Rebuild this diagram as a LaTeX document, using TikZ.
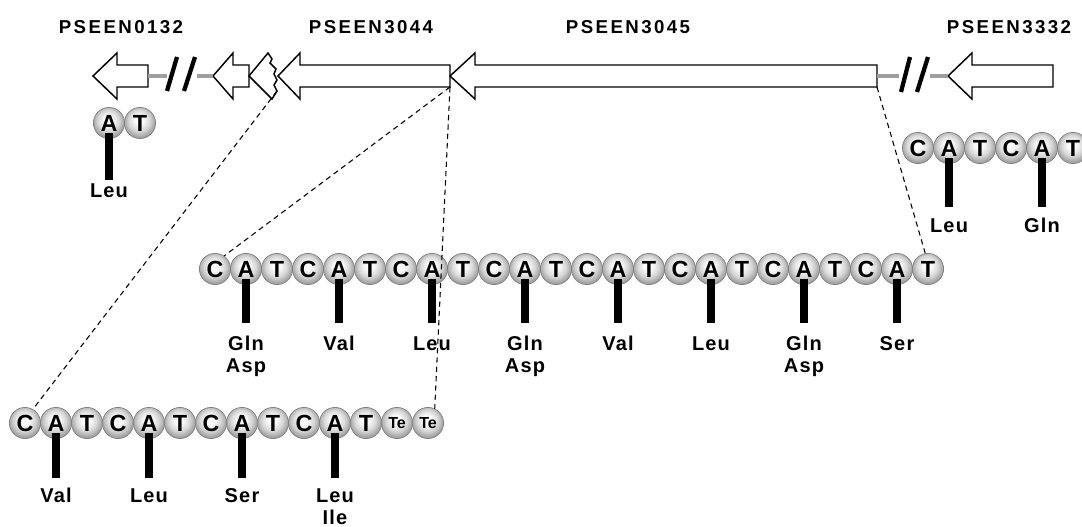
\documentclass[tikz,border=0pt]{standalone}
\usepackage{fontspec}
\setmainfont{Liberation Sans}
\newfontfamily\titlefont{Liberation Sans}[LetterSpace=13]
\newfontfamily\aafont{Liberation Sans}[LetterSpace=6]
\pgfdeclareradialshading{beadshade}{\pgfpoint{-2bp}{6bp}}{color(0bp)=(white); color(8bp)=(white!97!black); color(17bp)=(white!84!black); color(25bp)=(white!64!black); color(50bp)=(white!60!black)}
\tikzset{
  bead/.style={circle, minimum size=23.4pt, inner sep=0pt, shading=beadshade, draw=black!50, line width=0.5pt, font=\fontsize{17.5}{17.5}\selectfont\bfseries},
  tebead/.style={bead, font=\fontsize{12}{12}\selectfont\bfseries},
  aa/.style={font=\aafont\fontsize{15}{16.5}\selectfont\bfseries, align=center, inner sep=0pt, anchor=north},
  stick/.style={line width=6.2pt},
  gene/.style={draw=black, line width=1.1pt, fill=white, line join=miter},
  genetitle/.style={font=\titlefont\fontsize{14}{14}\selectfont\bfseries, inner sep=0pt},
  gapline/.style={draw=gray!75, line width=2.4pt},
  slashline/.style={line width=3.2pt},
  zoomline/.style={line width=0.8pt, dash pattern=on 4pt off 3pt}
}
\newcommand\genearrow[4]{\draw[gene] (#1,76) coordinate (#4-tip) -- (#2,53) -- (#2,65) -- (#3,65) -- (#3,76) coordinate (#4-mid) -- (#3,87) coordinate (#4-end) -- (#2,87) -- (#2,99) -- cycle;}
\begin{document}
\begin{tikzpicture}[x=0.75pt,y=-0.75pt]
\useasboundingbox (0,0) rectangle (1082,527);
\clip (0,0) rectangle (1082,527);
% titles
\node[genetitle] (t0132) at (121,27) {PSEEN0132};
\node[genetitle] (t3044) at (371,27) {PSEEN3044};
\node[genetitle] (t3045) at (628,27) {PSEEN3045};
\node[genetitle] (t3332) at (1009,27) {PSEEN3332};
% genes
\genearrow{93}{117}{148}{g0132}
\coordinate (gapA1) at (167,76);
\coordinate (gapA2) at (197,76);
\draw[gapline] (g0132-mid) -- (gapA1);
\draw[slashline] (167,91) -- (177,57);
\draw[slashline] (184,91) -- (195,57);
\genearrow{213}{233}{249}{gs}
\draw[gapline] (gapA2) -- (gs-tip);
\draw[gene] (249,76) coordinate (gj-tip) -- (268,53) -- (272,59) -- (270,63) -- (276,69) -- (274,74) -- (277,80) -- (274,85) -- (277,91) coordinate (gj-end) -- (272,99) -- cycle;
\genearrow{278}{300}{450}{g3044}
\genearrow{450}{475}{877}{g3045}
\coordinate (gapB1) at (899,76);
\coordinate (gapB2) at (930,76);
\draw[gapline] (g3045-mid) -- (gapB1);
\draw[slashline] (901,92) -- (910,57);
\draw[slashline] (917,92) -- (928,57);
\genearrow{948}{972}{1053}{g3332}
\draw[gapline] (gapB2) -- (g3332-tip);
% top-left pair
\node[bead] (p1) at (109,123) {A};
\node[bead] (p2) at (140,123) {T};
\node[aa] (lp1) at (109,183) {Leu};
\draw[stick] ([yshift=-7.5pt]p1.center) -- ([yshift=2.25pt]lp1.north);
% right row
\foreach \l [count=\i] in {C,A,T,C,A,T}
  \node[bead] (q\i) at ({918+31*(\i-1)},148) {\l};
\node[aa] (lq1) at (949,218) {Leu};
\node[aa] (lq2) at (1042,218) {Gln};
\draw[stick] ([yshift=-7.5pt]q2.center) -- ([yshift=8.25pt]lq1.north);
\draw[stick] ([yshift=-7.5pt]q5.center) -- ([yshift=8.25pt]lq2.north);
% middle row
\foreach \l [count=\i] in {C,A,T,C,A,T,C,A,T,C,A,T,C,A,T,C,A,T,C,A,T,C,A,T}
  \node[bead] (m\i) at ({215+31*(\i-1)},269) {\l};
\foreach \t [count=\k] in {{Gln\\Asp},Val,Leu,{Gln\\Asp},Val,Leu,{Gln\\Asp},Ser} {
  \pgfmathtruncatemacro\j{3*\k-1}
  \node[aa] (lm\k) at ({215+31*(\j-1)},336) {\t};
  \draw[stick] ([yshift=-7.5pt]m\j.center) -- ([yshift=9.75pt]lm\k.north);
}
% bottom row
\foreach \l [count=\i] in {C,A,T,C,A,T,C,A,T,C,A,T}
  \node[bead] (b\i) at ({25+31*(\i-1)},423) {\l};
\node[tebead] (b13) at (397,423) {Te};
\node[tebead] (b14) at (428,423) {Te};
\foreach \t [count=\k] in {Val,Leu,Ser,{Leu\\Ile}} {
  \pgfmathtruncatemacro\j{3*\k-1}
  \node[aa] (lb\k) at ({25+31*(\j-1)},488) {\t};
  \draw[stick] ([yshift=-7.5pt]b\j.center) -- ([yshift=7.5pt]lb\k.north);
}
% zoom lines
\draw[zoomline] (gj-end) -- (b1.60);
\draw[zoomline] (g3044-end) -- (m1.55);
\draw[zoomline] (g3044-end) -- (b14.65);
\draw[zoomline] (g3045-end) -- (m24.100);
\end{tikzpicture}
\end{document}
